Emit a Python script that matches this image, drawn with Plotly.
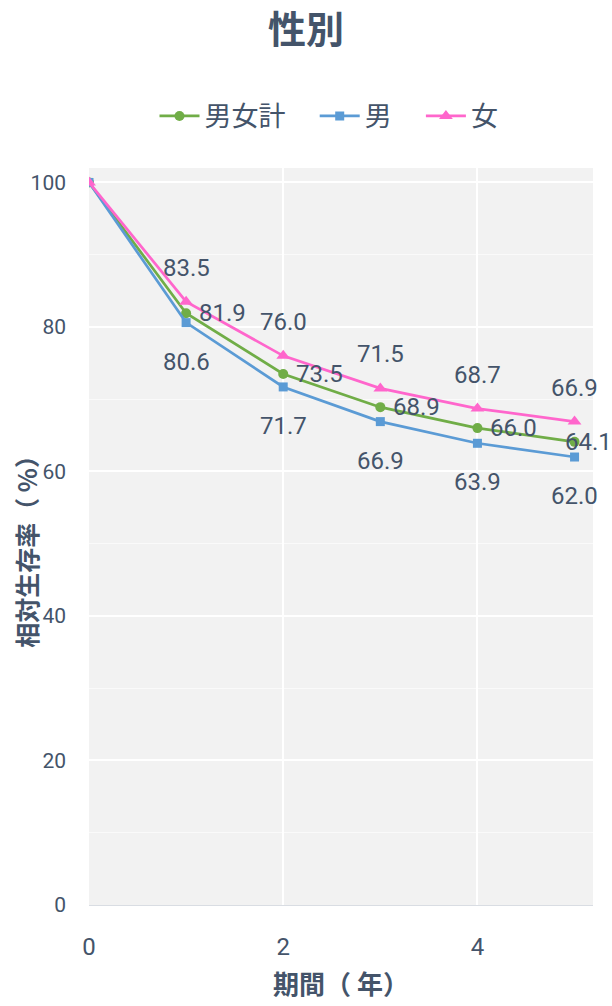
import plotly.graph_objects as go

# Relative survival by sex over follow-up years
years = [0, 1, 2, 3, 4, 5]
total = [100, 81.9, 73.5, 68.9, 66.0, 64.1]
male = [100, 80.6, 71.7, 66.9, 63.9, 62.0]
female = [100, 83.5, 76.0, 71.5, 68.7, 66.9]

series_names = ["男女計", "男", "女"]
colors = ["#70ad47", "#5b9bd5", "#ff66cc"]
symbols = ["circle", "square", "triangle-up"]
marker_sizes = [10, 9, 12]

FONT = "Noto Sans CJK JP, Noto Sans, sans-serif"
NUM_FONT = "Roboto, Noto Sans CJK JP, sans-serif"
TEXT = "#44546a"
PAD = "\u00a0" * 4  # spacing after each legend entry

fig = go.Figure()
for name, vals, col, sym, ms in zip(series_names, [total, male, female], colors, symbols, marker_sizes):
    fig.add_trace(go.Scatter(
        x=years, y=vals, name=name + PAD, mode="lines+markers",
        line=dict(color=col, width=2.7),
        marker=dict(symbol=sym, size=ms, color=col),
    ))

# value labels: total to the right, male below, female above
label_font = dict(size=24, color=TEXT, family=NUM_FONT)
annotations = []
last = years[-1]
for x, t, m, f in zip(years, total, male, female):
    if x == 0:
        continue
    annotations.append(dict(x=x, y=t, text=f"{t:.1f}", showarrow=False,
                            xanchor="left", yanchor="middle",
                            xshift=11 if x != last else -12,
                            font=label_font))
    annotations.append(dict(x=x, y=m, text=f"{m:.1f}", showarrow=False,
                            xanchor="center", yanchor="middle", yshift=-39,
                            font=label_font))
    annotations.append(dict(x=x, y=f, text=f"{f:.1f}", showarrow=False,
                            xanchor="center", yanchor="middle", yshift=34,
                            font=label_font))

annotations.append(dict(xref="paper", yref="paper", x=-0.124, y=0.488,
                        xanchor="center", yanchor="middle", textangle=-90,
                        text="<b>相対生存率（ %）</b>", showarrow=False,
                        font=dict(size=25, color=TEXT, family=FONT)))

fig.update_layout(
    width=612, height=1006,
    margin=dict(l=89, r=19, t=168, b=101),
    paper_bgcolor="white", plot_bgcolor="#f2f2f2",
    font=dict(family=FONT, color=TEXT),
    title=dict(text="<b>性別</b>", x=0.5, xanchor="center", y=0.97, yanchor="middle",
               font=dict(size=38, color=TEXT, family=FONT)),
    legend=dict(orientation="h", x=0.5, xanchor="center", y=1.07, yanchor="middle",
                font=dict(size=27, color=TEXT, family=FONT), itemwidth=40,
                traceorder="normal"),
    showlegend=True,
    annotations=annotations,
)
fig.update_xaxes(
    range=[0, 5.19], tickmode="array", tickvals=[0, 2, 4], automargin=False,
    showgrid=True, gridcolor="white", gridwidth=1.5, zeroline=False,
    ticks="", ticklabelstandoff=20, tickfont=dict(size=24, color=TEXT, family=NUM_FONT),
    showline=True, linecolor="#d9dde3", linewidth=1,
    title=dict(text="<b>期間（ 年）</b>", standoff=16,
               font=dict(size=26, color=TEXT, family=FONT)),
)
fig.update_yaxes(
    range=[0, 102], tickmode="array", tickvals=[0, 20, 40, 60, 80, 100], automargin=False,
    showgrid=True, gridcolor="white", gridwidth=2, zeroline=False,
    minor=dict(tickvals=[10, 30, 50, 70, 90], showgrid=True, gridcolor="#fafafa", gridwidth=1),
    ticks="", ticklabelstandoff=22, tickfont=dict(size=21, color=TEXT, family=NUM_FONT),
)

fig.write_html("out.html")
